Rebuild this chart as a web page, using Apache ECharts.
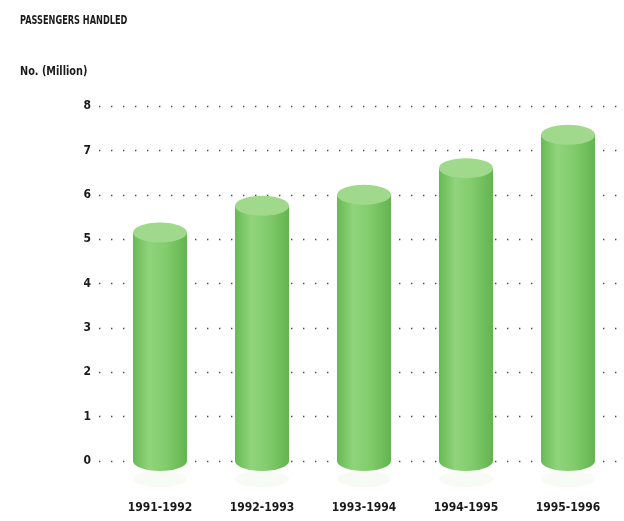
<!DOCTYPE html>
<html>
<head>
<meta charset="utf-8">
<script src="https://cdn.jsdelivr.net/npm/echarts@6/dist/echarts.min.js"></script>
<style>
  html, body { margin: 0; padding: 0; background: #ffffff; }
  #chart { width: 624px; height: 521px; }
</style>
</head>
<body>
<div id="chart"></div>
<script>
// Passengers handled per financial year, in millions
const years = ['1991-1992', '1992-1993', '1993-1994', '1994-1995', '1995-1996'];
const passengers = [5.15, 5.75, 6.0, 6.6, 7.35];
const yTicks = [0, 1, 2, 3, 4, 5, 6, 7, 8];

const FONT = "'DejaVu Sans Condensed', 'Liberation Sans Narrow', sans-serif";

const chart = echarts.init(document.getElementById('chart'), null, { renderer: 'canvas' });

const sideFill = () => new echarts.graphic.LinearGradient(0, 0, 1, 0, [
  { offset: 0, color: '#68b954' },
  { offset: 0.3, color: '#90d47b' },
  { offset: 0.6, color: '#83cc6d' },
  { offset: 1, color: '#63b450' }
]);

// Cylinder: bottom ellipse, body, lighter top cap, faint floor shadow
function renderCylinder(params, api) {
  const idx = api.value(0);
  const top = api.coord([idx, api.value(1)]);
  const base = api.coord([idx, 0]);
  const bw = api.size([1, 0])[0] * 0.53;
  const rx = bw / 2;
  const ry = 10;
  return {
    type: 'group',
    children: [
      {
        type: 'circle',
        shape: { cx: 0, cy: 0, r: rx },
        x: base[0], y: base[1] + 18, scaleY: 0.3,
        style: { fill: 'rgba(150,205,120,0.07)' }
      },
      {
        type: 'circle',
        shape: { cx: 0, cy: 0, r: rx },
        x: base[0], y: base[1], scaleY: ry / rx,
        style: { fill: sideFill() }
      },
      {
        type: 'rect',
        shape: { x: base[0] - rx, y: top[1], width: bw, height: base[1] - top[1] },
        style: { fill: sideFill() }
      },
      {
        type: 'circle',
        shape: { cx: 0, cy: 0, r: rx },
        x: top[0], y: top[1], scaleY: ry / rx,
        style: { fill: '#a0d98b' }
      }
    ]
  };
}

const option = {
  backgroundColor: '#ffffff',
  animation: false,
  // Condensed headings
  graphic: [
    {
      type: 'text', x: 20, y: 15, scaleX: 0.76,
      style: { text: 'PASSENGERS HANDLED', fontFamily: FONT, fontSize: 12, fontWeight: 'bold', fill: '#1a1a1a' }
    },
    {
      type: 'text', x: 20, y: 66, scaleX: 0.9,
      style: { text: 'No. (Million)', fontFamily: FONT, fontSize: 12, fontWeight: 'bold', fill: '#1a1a1a' }
    }
  ],
  grid: [
    { left: 99, right: 0, top: 106, bottom: 60 },
    { left: 109, right: 5, top: 106, bottom: 60 }
  ],
  xAxis: [
    {
      gridIndex: 0, type: 'category', data: years,
      show: false
    },
    {
      gridIndex: 1, type: 'category', data: years,
      axisLine: { show: false },
      axisTick: { show: false },
      axisLabel: {
        margin: 41,
        fontFamily: FONT, fontSize: 12, fontWeight: 'bold', color: '#1a1a1a'
      }
    }
  ],
  yAxis: [
    {
      gridIndex: 0, type: 'value', min: yTicks[0], max: yTicks[yTicks.length - 1], interval: 1,
      axisLine: { show: false },
      axisTick: { show: false },
      axisLabel: {
        margin: 8,
        fontFamily: FONT, fontSize: 12, fontWeight: 'bold', color: '#1a1a1a'
      },
      splitLine: {
        show: true,
        lineStyle: { color: '#4a4a4a', width: 1.4, type: [1.4, 10.6] }
      }
    },
    {
      gridIndex: 1, type: 'value', min: yTicks[0], max: yTicks[yTicks.length - 1], interval: 1,
      show: false,
      splitLine: { show: false }
    }
  ],
  series: [
    {
      type: 'custom',
      xAxisIndex: 1, yAxisIndex: 1,
      renderItem: renderCylinder,
      encode: { x: 0, y: 1 },
      data: passengers.map((v, i) => [i, v]),
      z: 5
    }
  ]
};

chart.setOption(option);
</script>
</body>
</html>
